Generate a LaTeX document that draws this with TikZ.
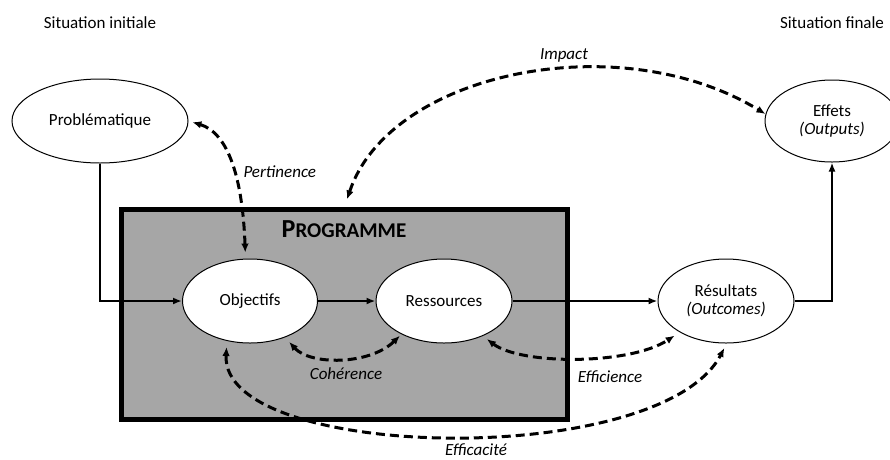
\documentclass[tikz,border=0pt]{standalone}
\usepackage{fontspec}
\setmainfont{Carlito}
\usepackage{tikz}
\usetikzlibrary{shapes.geometric,arrows.meta}

\begin{document}
\begin{tikzpicture}[x=1pt,y=-1pt,
	font=\fontsize{17}{20}\selectfont,
	bulle/.style={draw,ellipse,fill=white,line width=1pt,inner sep=0pt,align=center},
	flux/.style={->,>={Latex[length=9pt,width=7pt]},line width=2.8pt},
	lien/.style={<->,>={Latex[length=9pt,width=7.5pt]},line width=3pt,dash pattern=on 9pt off 5pt},
	etiq/.style={font=\fontsize{17}{20}\selectfont\itshape}]
	\useasboundingbox (0,0) rectangle (890,459);

	\node at (100,23) (init) {Situation initiale};
	\node at (832,23) (fin) {Situation finale};

	\node[draw,fill={rgb,255:red,166;green,166;blue,166},line width=5pt,minimum width=446pt,minimum height=210pt] at (344.5,314.5) (prog) {};
	\node at (344,229) (progtitre) {\bfseries\fontsize{26}{28}\selectfont P\fontsize{21}{24}\selectfont ROGRAMME};

	\node[bulle,minimum width=176pt,minimum height=84pt] at (100,121) (prob) {Problématique};
	\node[bulle,minimum width=135pt,minimum height=84pt] at (250,301) (obj) {Objectifs};
	\node[bulle,minimum width=136pt,minimum height=84pt] at (444,301) (res) {Ressources};
	\node[bulle,minimum width=136pt,minimum height=84pt] at (726,301) (resu) {Résultats\\[-2pt]\itshape (Outcomes)};
	\node[bulle,minimum width=134pt,minimum height=82pt] at (832,121) (eff) {Effets\\[-2pt]\itshape (Outputs)};

	\draw[flux] (prob.south) |- (obj.west);
	\draw[flux] (obj) -- (res);
	\draw[flux] (res) -- (resu);
	\draw[flux] (resu.east) -| (eff.south);

	% criteres d'evaluation
	\draw[lien,shorten <=4pt,shorten >=6pt] (prob.east) .. controls +(40,12) and +(-3,-80) .. (obj.96);
	\draw[lien,shorten <=8pt] (prog.north) .. controls +(45,-135) and +(-146,-89) .. (eff.174);
	\draw[lien,shorten <=6pt,shorten >=2pt] (obj.-46) .. controls +(25,28) and +(-32,31) .. (res.-142);
	\draw[lien,shorten <=5pt,shorten >=6pt] (res.-42) .. controls +(38,29) and +(-50,33) .. (resu.-146);
	\draw[lien,shorten <=6pt,shorten >=5pt] (obj.-120) .. controls +(-7,120) and +(-67,127) .. (resu.-89);

	\node[etiq,anchor=west] at (240,172) (pert) {Pertinence};
	\node[etiq] at (564,55) (imp) {Impact};
	\node[etiq] at (346,374) (coh) {Cohérence};
	\node[etiq] at (610,377) (effi) {Efficience};
	\node[etiq] at (476,450) (effa) {Efficacité};
\end{tikzpicture}
\end{document}
